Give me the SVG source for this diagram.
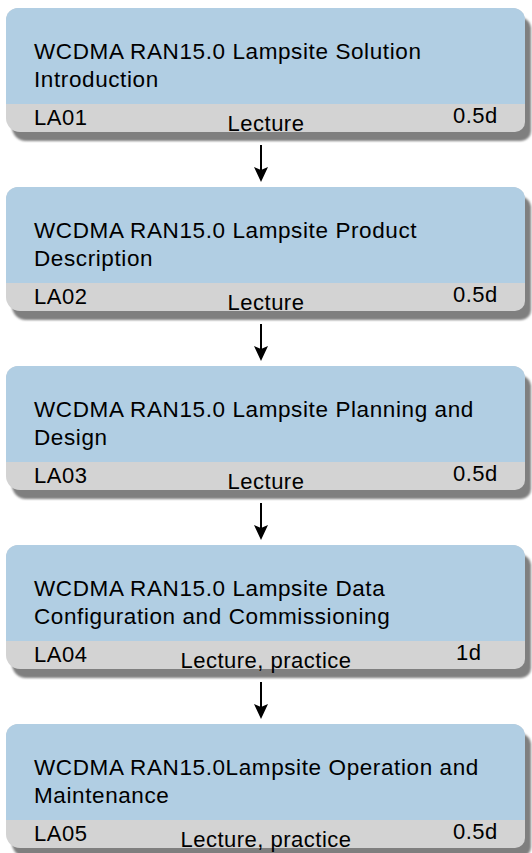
<svg xmlns="http://www.w3.org/2000/svg" xmlns:xlink="http://www.w3.org/1999/xlink" width="532" height="853" viewBox="0 0 532 853">
<style>
.t{font-family:"Liberation Sans",Arial,sans-serif;font-size:22.5px;letter-spacing:0.6px;fill:#000}
.s{font-size:22px;letter-spacing:0.5px}
.m{text-anchor:middle}
.blue{fill:#b1cee3}
.gray{fill:#d3d3d3}
.shadow{fill:#7f7f7f}
.conn line{stroke:#000;stroke-width:2}
.conn polygon{fill:#000}
</style>
<defs>
<filter id="blur" x="-5%" y="-10%" width="110%" height="120%"><feGaussianBlur stdDeviation="1"/></filter>
<g id="card">
<path class="shadow" filter="url(#blur)" transform="translate(6,9)" d="M18,0 H513 A12,12 0 0 1 525,12 V114 A10,10 0 0 1 515,124 H20 A14,14 0 0 1 6,110 V12 A12,12 0 0 1 18,0 Z"/>
<path class="gray" d="M18,0 H513 A12,12 0 0 1 525,12 V114 A10,10 0 0 1 515,124 H20 A14,14 0 0 1 6,110 V12 A12,12 0 0 1 18,0 Z"/>
<path class="blue" d="M18,0 H513 A12,12 0 0 1 525,12 V96 H6 V12 A12,12 0 0 1 18,0 Z"/>
</g>
</defs>
<rect width="532" height="853" fill="#fff"/>
<g id="connectors" class="conn">
<line x1="261" y1="145" x2="261" y2="172"/><polygon points="254,167 261,182 268,167 261,170"/>
<line x1="261" y1="324" x2="261" y2="351"/><polygon points="254,346 261,361 268,346 261,349"/>
<line x1="261" y1="503" x2="261" y2="530"/><polygon points="254,525 261,540 268,525 261,528"/>
<line x1="261" y1="682" x2="261" y2="709"/><polygon points="254,704 261,719 268,704 261,707"/>
</g>
<g id="LA01">
<use xlink:href="#card" y="8"/>
<text class="t" x="34" y="59">WCDMA RAN15.0 Lampsite Solution</text>
<text class="t" x="34" y="87">Introduction</text>
<text class="t s" x="34" y="125">LA01</text>
<text class="t s m" x="266" y="131">Lecture</text>
<text class="t s" x="453" y="123">0.5d</text>
</g>
<g id="LA02">
<use xlink:href="#card" y="187"/>
<text class="t" x="34" y="238">WCDMA RAN15.0 Lampsite Product</text>
<text class="t" x="34" y="266">Description</text>
<text class="t s" x="34" y="304">LA02</text>
<text class="t s m" x="266" y="310">Lecture</text>
<text class="t s" x="453" y="302">0.5d</text>
</g>
<g id="LA03">
<use xlink:href="#card" y="366"/>
<text class="t" x="34" y="417">WCDMA RAN15.0 Lampsite Planning and</text>
<text class="t" x="34" y="445">Design</text>
<text class="t s" x="34" y="483">LA03</text>
<text class="t s m" x="266" y="489">Lecture</text>
<text class="t s" x="453" y="481">0.5d</text>
</g>
<g id="LA04">
<use xlink:href="#card" y="545"/>
<text class="t" x="34" y="596">WCDMA RAN15.0 Lampsite Data</text>
<text class="t" x="34" y="624">Configuration and Commissioning</text>
<text class="t s" x="34" y="662">LA04</text>
<text class="t s m" x="266" y="668">Lecture, practice</text>
<text class="t s" x="456" y="660">1d</text>
</g>
<g id="LA05">
<use xlink:href="#card" y="724"/>
<text class="t" x="34" y="775">WCDMA RAN15.0Lampsite Operation and</text>
<text class="t" x="34" y="803">Maintenance</text>
<text class="t s" x="34" y="841">LA05</text>
<text class="t s m" x="266" y="847">Lecture, practice</text>
<text class="t s" x="453" y="839">0.5d</text>
</g>
</svg>
